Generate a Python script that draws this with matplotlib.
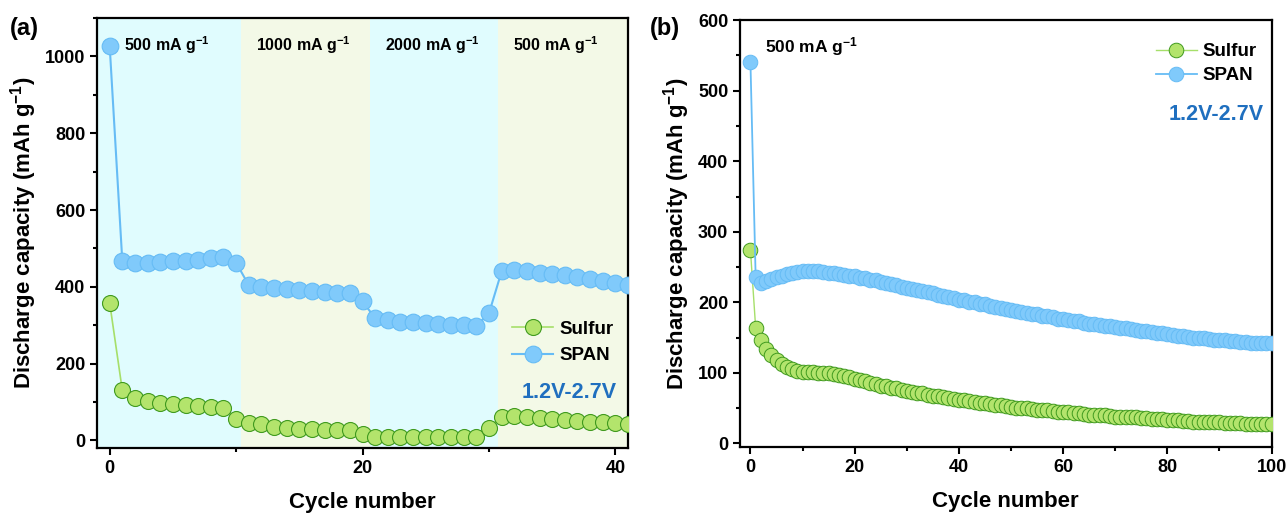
import matplotlib.pyplot as plt
from matplotlib.ticker import MultipleLocator, AutoMinorLocator

plt.rcParams['font.family'] = ['Liberation Sans', 'DejaVu Sans']
plt.rcParams['font.weight'] = 'bold'
plt.rcParams['axes.labelweight'] = 'bold'
plt.rcParams['mathtext.fontset'] = 'custom'
plt.rcParams['mathtext.bf'] = 'Liberation Sans:bold'
plt.rcParams['mathtext.rm'] = 'Liberation Sans:bold'
plt.rcParams['mathtext.default'] = 'bf'

# ---- data, panel (a): rate test ----
cycles_a = list(range(42))
span_a = [1027, 466, 463, 463, 465, 467, 467, 469, 474, 478,
          463, 404, 400, 396, 393, 391, 388, 387, 385, 384,
          362, 318, 313, 309, 307, 305, 302, 301, 300, 298,
          331, 440, 443, 441, 437, 433, 430, 426, 420, 416,
          410, 405]
sulfur_a = [358, 130, 111, 102, 98, 94, 91, 89, 87, 84,
            56, 45, 42, 36, 32, 30, 29, 28, 26, 26,
            16, 10, 9, 9, 9, 9, 9, 9, 9, 9,
            33, 62, 63, 61, 58, 55, 52, 50, 48, 47,
            45, 43]
rate_edges = [-1, 10.4, 20.6, 30.7, 41]
rate_labels = ['500 mA g$^{-1}$', '1000 mA g$^{-1}$', '2000 mA g$^{-1}$', '500 mA g$^{-1}$']

# ---- data, panel (b): cycling at 500 mA/g ----
cycles_b = list(range(101))
span_b = [540, 236, 228, 230, 233, 236, 238, 240, 242, 243,
          244, 244, 244, 244, 243, 242, 241, 240, 239, 238,
          237, 235, 234, 232, 231, 229, 227, 226, 224, 222,
          221, 219, 218, 216, 214, 213, 211, 209, 208, 206,
          204, 203, 201, 200, 198, 197, 195, 194, 192, 191,
          189, 188, 187, 185, 184, 183, 181, 180, 179, 177,
          176, 175, 174, 173, 171, 170, 169, 168, 167, 166,
          165, 164, 163, 162, 161, 160, 159, 158, 157, 156,
          155, 154, 153, 152, 151, 150, 150, 149, 148, 147,
          147, 146, 145, 145, 144, 144, 143, 143, 142, 142,
          142]
sulfur_b = [274, 164, 147, 134, 126, 119, 113, 108, 105, 103,
            102, 101, 101, 100, 100, 100, 99, 97, 96, 94,
            92, 90, 88, 86, 84, 82, 81, 79, 78, 76,
            75, 73, 72, 71, 69, 68, 67, 66, 64, 63,
            62, 61, 60, 59, 58, 57, 56, 55, 54, 53,
            52, 51, 50, 50, 49, 48, 47, 47, 46, 45,
            44, 44, 43, 43, 42, 41, 41, 40, 40, 39,
            38, 38, 38, 37, 37, 36, 36, 35, 35, 34,
            33, 33, 33, 32, 32, 31, 31, 31, 30, 30,
            30, 29, 29, 29, 29, 28, 28, 28, 28, 28,
            27]

span_face = '#80cafb'
span_edge = '#66bcf5'
sulfur_face = '#b3e46c'
sulfur_edge = '#3f9a1e'
sulfur_line = '#a6df6a'
band_colors = ['#e0fcfe', '#f3f9e7', '#e0fcfe', '#f3f9e7']
volt_color = '#1f6fbf'

fig = plt.figure(figsize=(12.87, 5.15), dpi=100)
ax1 = fig.add_axes([0.0754, 0.130, 0.4126, 0.835])
ax2 = fig.add_axes([0.575, 0.132, 0.413, 0.829])


def style_axes(ax):
    for s in ax.spines.values():
        s.set_linewidth(1.6)
    ax.tick_params(which='both', direction='out', width=1.5, labelsize=13)
    ax.tick_params(which='major', length=5)
    ax.tick_params(which='minor', length=3)
    ax.set_xlabel('Cycle number', fontsize=16, labelpad=11)
    ax.set_ylabel('Discharge capacity (mAh g$^{-1}$)', fontsize=16, labelpad=4)


# panel (a)
for i in range(4):
    ax1.axvspan(rate_edges[i], rate_edges[i + 1], color=band_colors[i], zorder=0, lw=0)
ax1.plot(cycles_a, sulfur_a, '-o', color=sulfur_line, lw=1.2, ms=11.5,
         mfc=sulfur_face, mec=sulfur_edge, mew=0.8, label='Sulfur', zorder=3)
ax1.plot(cycles_a, span_a, '-o', color=span_edge, lw=1.5, ms=12,
         mfc=span_face, mec=span_edge, mew=0.8, label='SPAN', zorder=3)
ax1.set_xlim(-1, 41)
ax1.set_ylim(-20, 1100)
ax1.xaxis.set_major_locator(MultipleLocator(20))
ax1.xaxis.set_minor_locator(AutoMinorLocator(2))
ax1.yaxis.set_major_locator(MultipleLocator(200))
ax1.yaxis.set_minor_locator(AutoMinorLocator(2))
for i, lab in enumerate(rate_labels):
    ax1.text(rate_edges[i] + 1.2 + (0.9 if i == 0 else 0), 1030, lab, fontsize=11.5,
             ha='left', va='center')
ax1.legend(loc='upper left', bbox_to_anchor=(0.75, 0.335), frameon=False,
           fontsize=13.5, handlelength=2.2, handletextpad=0.3, labelspacing=0.5)
ax1.text(0.89, 0.13, '1.2V-2.7V', transform=ax1.transAxes, color=volt_color,
         fontsize=15.5, ha='center', va='center')
style_axes(ax1)
fig.text(0.008, 0.945, '(a)', fontsize=17, ha='left', va='center')

# panel (b)
ax2.plot(cycles_b, sulfur_b, '-o', color=sulfur_line, lw=1.0, ms=10.5,
         mfc=sulfur_face, mec=sulfur_edge, mew=0.7, label='Sulfur', zorder=3)
ax2.plot(cycles_b, span_b, '-o', color=span_edge, lw=1.3, ms=10.5,
         mfc=span_face, mec=span_edge, mew=0.7, label='SPAN', zorder=3)
ax2.set_xlim(-2, 100)
ax2.set_ylim(-5, 600)
ax2.xaxis.set_major_locator(MultipleLocator(20))
ax2.xaxis.set_minor_locator(AutoMinorLocator(2))
ax2.yaxis.set_major_locator(MultipleLocator(100))
ax2.yaxis.set_minor_locator(AutoMinorLocator(2))
ax2.text(2.8, 562, '500 mA g$^{-1}$', fontsize=12.5, ha='left', va='center')
ax2.legend(loc='upper left', bbox_to_anchor=(0.75, 0.985), frameon=False,
           fontsize=13.5, handlelength=2.2, handletextpad=0.3, labelspacing=0.35)
ax2.text(0.895, 0.78, '1.2V-2.7V', transform=ax2.transAxes, color=volt_color,
         fontsize=15.5, ha='center', va='center')
style_axes(ax2)
fig.text(0.505, 0.945, '(b)', fontsize=17, ha='left', va='center')

fig.savefig('out.png', dpi=100)
plt.close(fig)
